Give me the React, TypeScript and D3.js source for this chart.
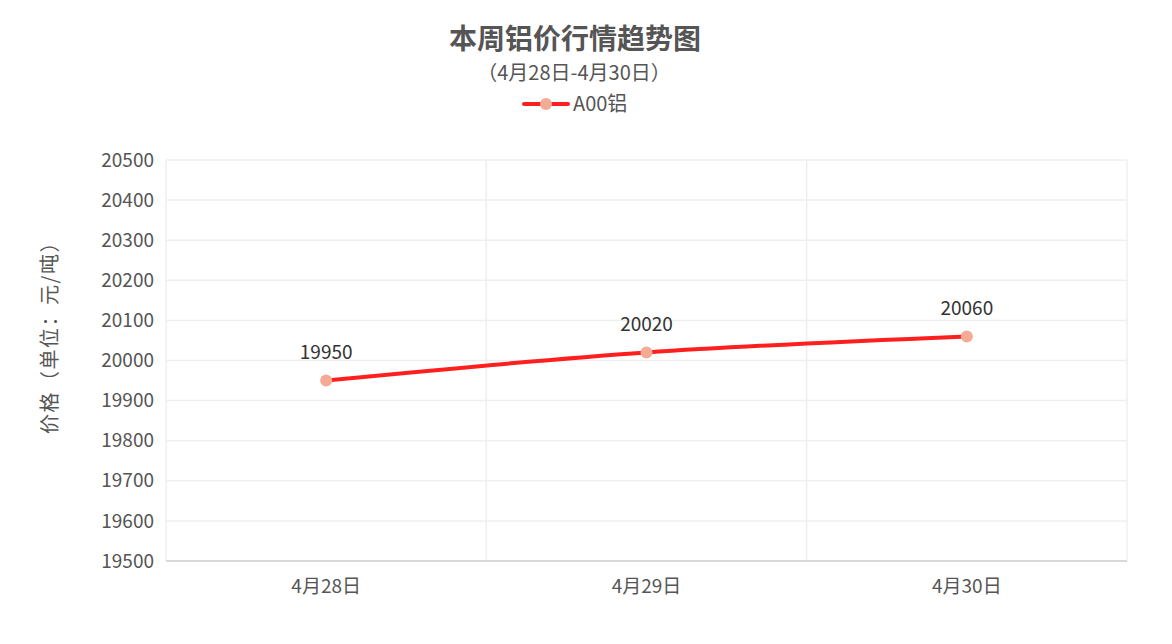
import React, { useEffect, useRef } from 'react';
import * as d3 from 'd3';

const categories = ['4月28日', '4月29日', '4月30日'];
const prices = [19950, 20020, 20060];
const yTicks = [19500, 19600, 19700, 19800, 19900, 20000, 20100, 20200, 20300, 20400, 20500];

const FONT = "'Noto Sans CJK SC', 'Noto Sans', sans-serif";

const App: React.FC = () => {
  const svgRef = useRef<SVGSVGElement>(null);

  useEffect(() => {
    if (!svgRef.current) return;
    const svg = d3.select(svgRef.current);
    svg.selectAll('*').remove();

    const width = 1172;
    const height = 644;
    const margin = { top: 160, right: 45, bottom: 83, left: 166 };

    const x = d3.scaleBand<string>()
      .domain(categories)
      .range([margin.left, width - margin.right]);
    const y = d3.scaleLinear()
      .domain([19500, 20500])
      .range([height - margin.bottom, margin.top]);

    // horizontal grid
    svg.append('g')
      .selectAll('line')
      .data(yTicks)
      .join('line')
      .attr('x1', margin.left)
      .attr('x2', width - margin.right)
      .attr('y1', d => y(d))
      .attr('y2', d => y(d))
      .attr('stroke', '#efefef')
      .attr('stroke-width', 1.5);

    // vertical grid at band boundaries
    const bounds = categories.map(c => x(c)!).concat([x.range()[1]]);
    svg.append('g')
      .selectAll('line')
      .data(bounds)
      .join('line')
      .attr('x1', d => d)
      .attr('x2', d => d)
      .attr('y1', margin.top)
      .attr('y2', height - margin.bottom)
      .attr('stroke', '#efefef')
      .attr('stroke-width', 1.5);

    // x axis line
    svg.append('line')
      .attr('x1', margin.left)
      .attr('x2', width - margin.right)
      .attr('y1', y(19500))
      .attr('y2', y(19500))
      .attr('stroke', '#d9d9d9')
      .attr('stroke-width', 2);

    // y tick labels
    svg.append('g')
      .selectAll('text')
      .data(yTicks)
      .join('text')
      .attr('x', margin.left - 12)
      .attr('y', d => y(d))
      .attr('dy', '0.35em')
      .attr('text-anchor', 'end')
      .attr('fill', '#555')
      .style('font-family', FONT)
      .style('font-size', '19px')
      .text(d => d);

    // x tick labels
    svg.append('g')
      .selectAll('text')
      .data(categories)
      .join('text')
      .attr('x', d => x(d)! + x.bandwidth() / 2)
      .attr('y', height - margin.bottom + 25)
      .attr('dy', '0.35em')
      .attr('text-anchor', 'middle')
      .attr('fill', '#555')
      .style('font-family', FONT)
      .style('font-size', '19px')
      .text(d => d);

    // y axis name
    svg.append('text')
      .attr('transform', `translate(50,${(margin.top + height - margin.bottom) / 2 - 28}) rotate(-90)`)
      .attr('dy', '0.35em')
      .attr('text-anchor', 'middle')
      .attr('fill', '#555')
      .style('font-family', FONT)
      .style('font-size', '20px')
      .style('letter-spacing', '1.5px')
      .text('价格（单位：元/吨）');

    const pts: [number, number][] = prices.map((p, i) => [x(categories[i])! + x.bandwidth() / 2, y(p)]);

    const line = d3.line<[number, number]>()
      .x(d => d[0])
      .y(d => d[1])
      .curve(d3.curveMonotoneX);

    svg.append('path')
      .attr('d', line(pts))
      .attr('fill', 'none')
      .attr('stroke', '#ff1f1f')
      .attr('stroke-width', 4)
      .attr('stroke-linecap', 'round');

    svg.append('g')
      .selectAll('circle')
      .data(pts)
      .join('circle')
      .attr('cx', d => d[0])
      .attr('cy', d => d[1])
      .attr('r', 6)
      .attr('fill', '#f4aa94');

    svg.append('g')
      .selectAll('text')
      .data(pts)
      .join('text')
      .attr('x', d => d[0])
      .attr('y', d => d[1] - 28)
      .attr('dy', '0.35em')
      .attr('text-anchor', 'middle')
      .attr('fill', '#333')
      .style('font-family', FONT)
      .style('font-size', '19px')
      .text((d, i) => prices[i]);

    // title
    svg.append('text')
      .attr('x', 575)
      .attr('y', 39)
      .attr('dy', '0.35em')
      .attr('text-anchor', 'middle')
      .attr('fill', '#555')
      .style('font-family', FONT)
      .style('font-size', '28px')
      .style('font-weight', 'bold')
      .text('本周铝价行情趋势图');

    svg.append('text')
      .attr('x', 574)
      .attr('y', 73)
      .attr('dy', '0.35em')
      .attr('text-anchor', 'middle')
      .attr('fill', '#555')
      .style('font-family', FONT)
      .style('font-size', '20px')
      .text('（4月28日-4月30日）');

    // legend
    const lg = svg.append('g').attr('transform', 'translate(524,104)');
    lg.append('line')
      .attr('x1', 0).attr('x2', 44).attr('y1', 0).attr('y2', 0)
      .attr('stroke', '#ff1f1f').attr('stroke-width', 4).attr('stroke-linecap', 'round');
    lg.append('circle').attr('cx', 22).attr('cy', 0).attr('r', 6).attr('fill', '#f4aa94');
    lg.append('text')
      .attr('x', 49)
      .attr('y', 0)
      .attr('dy', '0.35em')
      .attr('fill', '#555')
      .style('font-family', FONT)
      .style('font-size', '20px')
      .text('A00铝');
  }, []);

  return (
    <div style={{ position: 'fixed', left: 0, top: 0, width: 1172, height: 644, background: '#fff' }}>
      <svg ref={svgRef} width={1172} height={644} />
    </div>
  );
};

export default App;
